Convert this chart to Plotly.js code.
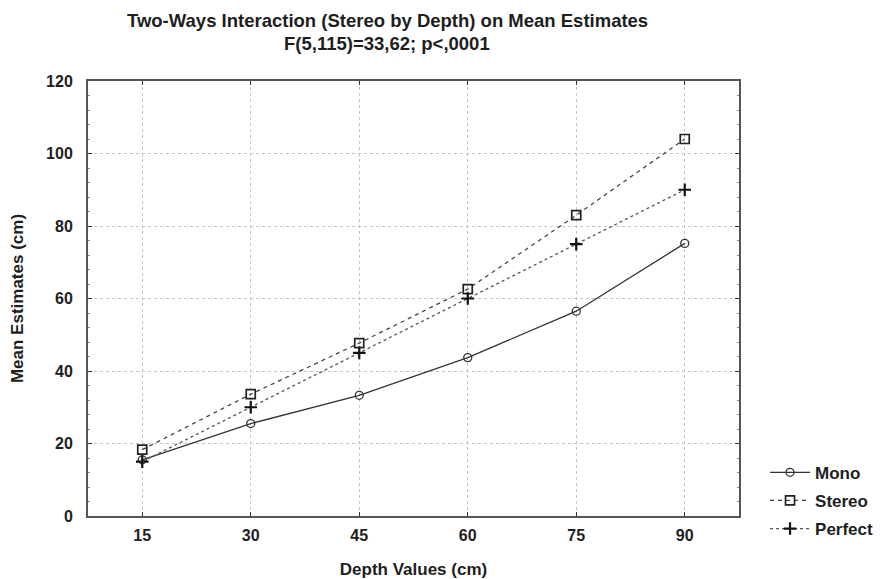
<!DOCTYPE html>
<html>
<head>
<meta charset="utf-8">
<script src="https://cdn.plot.ly/plotly-3.0.1.min.js"></script>
<style>html,body{margin:0;padding:0;background:#fff;}#chart{width:884px;height:579px;}</style>
</head>
<body>
<div id="chart"></div>
<script>
const depth = [15, 30, 45, 60, 75, 90];
const mono = [15.5, 25.5, 33.3, 43.7, 56.5, 75.2];
const stereo = [18.3, 33.6, 47.7, 62.6, 83.0, 104.0];
const perfect = [15, 30, 45, 60, 75, 90];
const xTicks = [15, 30, 45, 60, 75, 90];
const yTicks = [0, 20, 40, 60, 80, 100, 120];
const titleLines = ['Two-Ways Interaction (Stereo by Depth) on Mean Estimates', 'F(5,115)=33,62; p<,0001'];

const ink = '#1e1e1e';
const fam = 'Liberation Sans, Arial, sans-serif';
const traces = [
  {x: depth, y: mono, name: 'Mono', mode: 'lines+markers', legendgroup: 'a',
   line: {color: '#333', width: 1.3, dash: 'solid'},
   marker: {symbol: 'circle-open', size: 8, color: '#333', line: {width: 1.3}}},
  {x: depth, y: stereo, name: 'Stereo', mode: 'lines+markers', legendgroup: 'b',
   line: {color: '#444', width: 1.3, dash: '4px,4px'},
   marker: {symbol: 'square-open', size: 9, color: '#222', line: {width: 1.7}}},
  {x: depth, y: perfect, name: 'Perfect', mode: 'lines+markers', legendgroup: 'c',
   line: {color: '#555', width: 1.3, dash: 'dot'},
   marker: {symbol: 'cross-thin', size: 9, color: '#111', line: {width: 2.2, color: '#111'}}}
];

const layout = {
  width: 884, height: 579,
  margin: {l: 88, r: 145, t: 81, b: 63, autoexpand: false},
  paper_bgcolor: '#fff', plot_bgcolor: '#fff',
  font: {family: fam, color: ink, size: 16, weight: 'bold'},
  showlegend: true,
  legend: {x: 1.04, xanchor: 'left', y: 0.035, yanchor: 'middle', tracegroupgap: 3,
           itemwidth: 40,
           font: {size: 17, color: ink, weight: 'bold', family: fam}, bgcolor: 'rgba(0,0,0,0)'},
  xaxis: {
    range: [7.5, 97.5], tickvals: xTicks, ticktext: xTicks.map(String),
    showgrid: true, gridcolor: '#c4c4c4', griddash: 'dot', gridwidth: 1,
    zeroline: false, showline: true, linecolor: '#555', linewidth: 2, mirror: 'ticks',
    ticks: 'inside', ticklen: 4, tickcolor: '#333', ticklabelstandoff: 4,
    tickfont: {size: 16, color: ink, weight: 'bold', family: fam},
    title: {text: 'Depth Values (cm)', font: {size: 17, color: ink, weight: 'bold', family: fam}, standoff: 22}
  },
  yaxis: {
    range: [0, 120], tickvals: yTicks, ticktext: yTicks.map(String),
    showgrid: true, gridcolor: '#c4c4c4', griddash: 'dot', gridwidth: 1,
    zeroline: false, showline: true, linecolor: '#555', linewidth: 2, mirror: 'ticks',
    ticks: 'inside', ticklen: 4, tickcolor: '#333', ticklabelstandoff: 10,
    minor: {dtick: 4, ticks: 'inside', ticklen: 2, tickcolor: '#888', showgrid: false},
    tickfont: {size: 16, color: ink, weight: 'bold', family: fam},
    title: {text: 'Mean Estimates (cm)', font: {size: 17, color: ink, weight: 'bold', family: fam}, standoff: 18}
  },
  annotations: [
    {text: titleLines[0], xref: 'paper', yref: 'paper', x: 0.46, y: 1, yshift: 81 - 20, xanchor: 'center', yanchor: 'middle',
     showarrow: false, font: {size: 18.5, color: ink, weight: 'bold', family: fam}},
    {text: titleLines[1], xref: 'paper', yref: 'paper', x: 0.46, y: 1, yshift: 81 - 43, xanchor: 'center', yanchor: 'middle',
     showarrow: false, font: {size: 18.5, color: ink, weight: 'bold', family: fam}}
  ]
};

Plotly.newPlot('chart', traces, layout, {displayModeBar: false, staticPlot: true});
</script>
</body>
</html>
